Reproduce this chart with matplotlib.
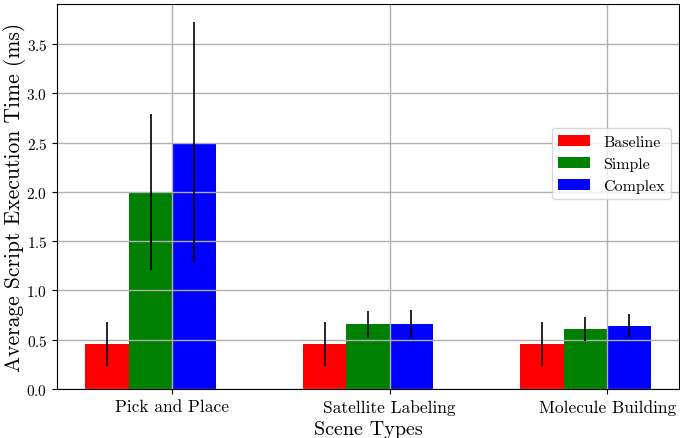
import matplotlib
matplotlib.use('Agg')
import matplotlib.pyplot as plt
import numpy as np

plt.rcParams['font.family'] = 'cmr10'
plt.rcParams['mathtext.fontset'] = 'cm'
plt.rcParams['axes.formatter.use_mathtext'] = True

scenes = ['Pick and Place', 'Satellite Labeling', 'Molecule Building']

baseline = [0.455, 0.455, 0.455]
baseline_err = [0.225, 0.225, 0.225]
simple = [2.0, 0.657, 0.607]
simple_err = [0.79, 0.135, 0.12]
complex_ = [2.5, 0.657, 0.637]
complex_err = [1.22, 0.14, 0.12]

series = [
    ('Baseline', baseline, baseline_err, 'red'),
    ('Simple', simple, simple_err, 'green'),
    ('Complex', complex_, complex_err, 'blue'),
]

width = 0.2
x = np.arange(len(scenes))

fig = plt.figure(figsize=(6.8, 4.39), dpi=100)
ax = fig.add_axes([57 / 680, 1 - 390 / 439, 622 / 680, 385 / 439])

for i, (name, vals, errs, color) in enumerate(series):
    ax.bar(x + (i - 1.5) * width, vals, width, yerr=errs, color=color,
           label=name, error_kw=dict(ecolor='black', lw=1.2))

ax.set_xticks(x)
ax.set_xticklabels(scenes, fontsize=12.5)
ax.tick_params(axis='y', labelsize=11)
ax.set_yticks(np.arange(0, 4.0, 0.5))
ax.set_xlabel('Scene Types', fontsize=14.5, labelpad=4)
ax.set_ylabel('Average Script Execution Time (ms)', fontsize=15.5, labelpad=0)
ax.grid(True, color='#b0b0b0', lw=1)
ax.legend(loc='center right', bbox_to_anchor=(1.0, 0.585), fontsize=11.5)

fig.savefig('out.png', dpi=100)
